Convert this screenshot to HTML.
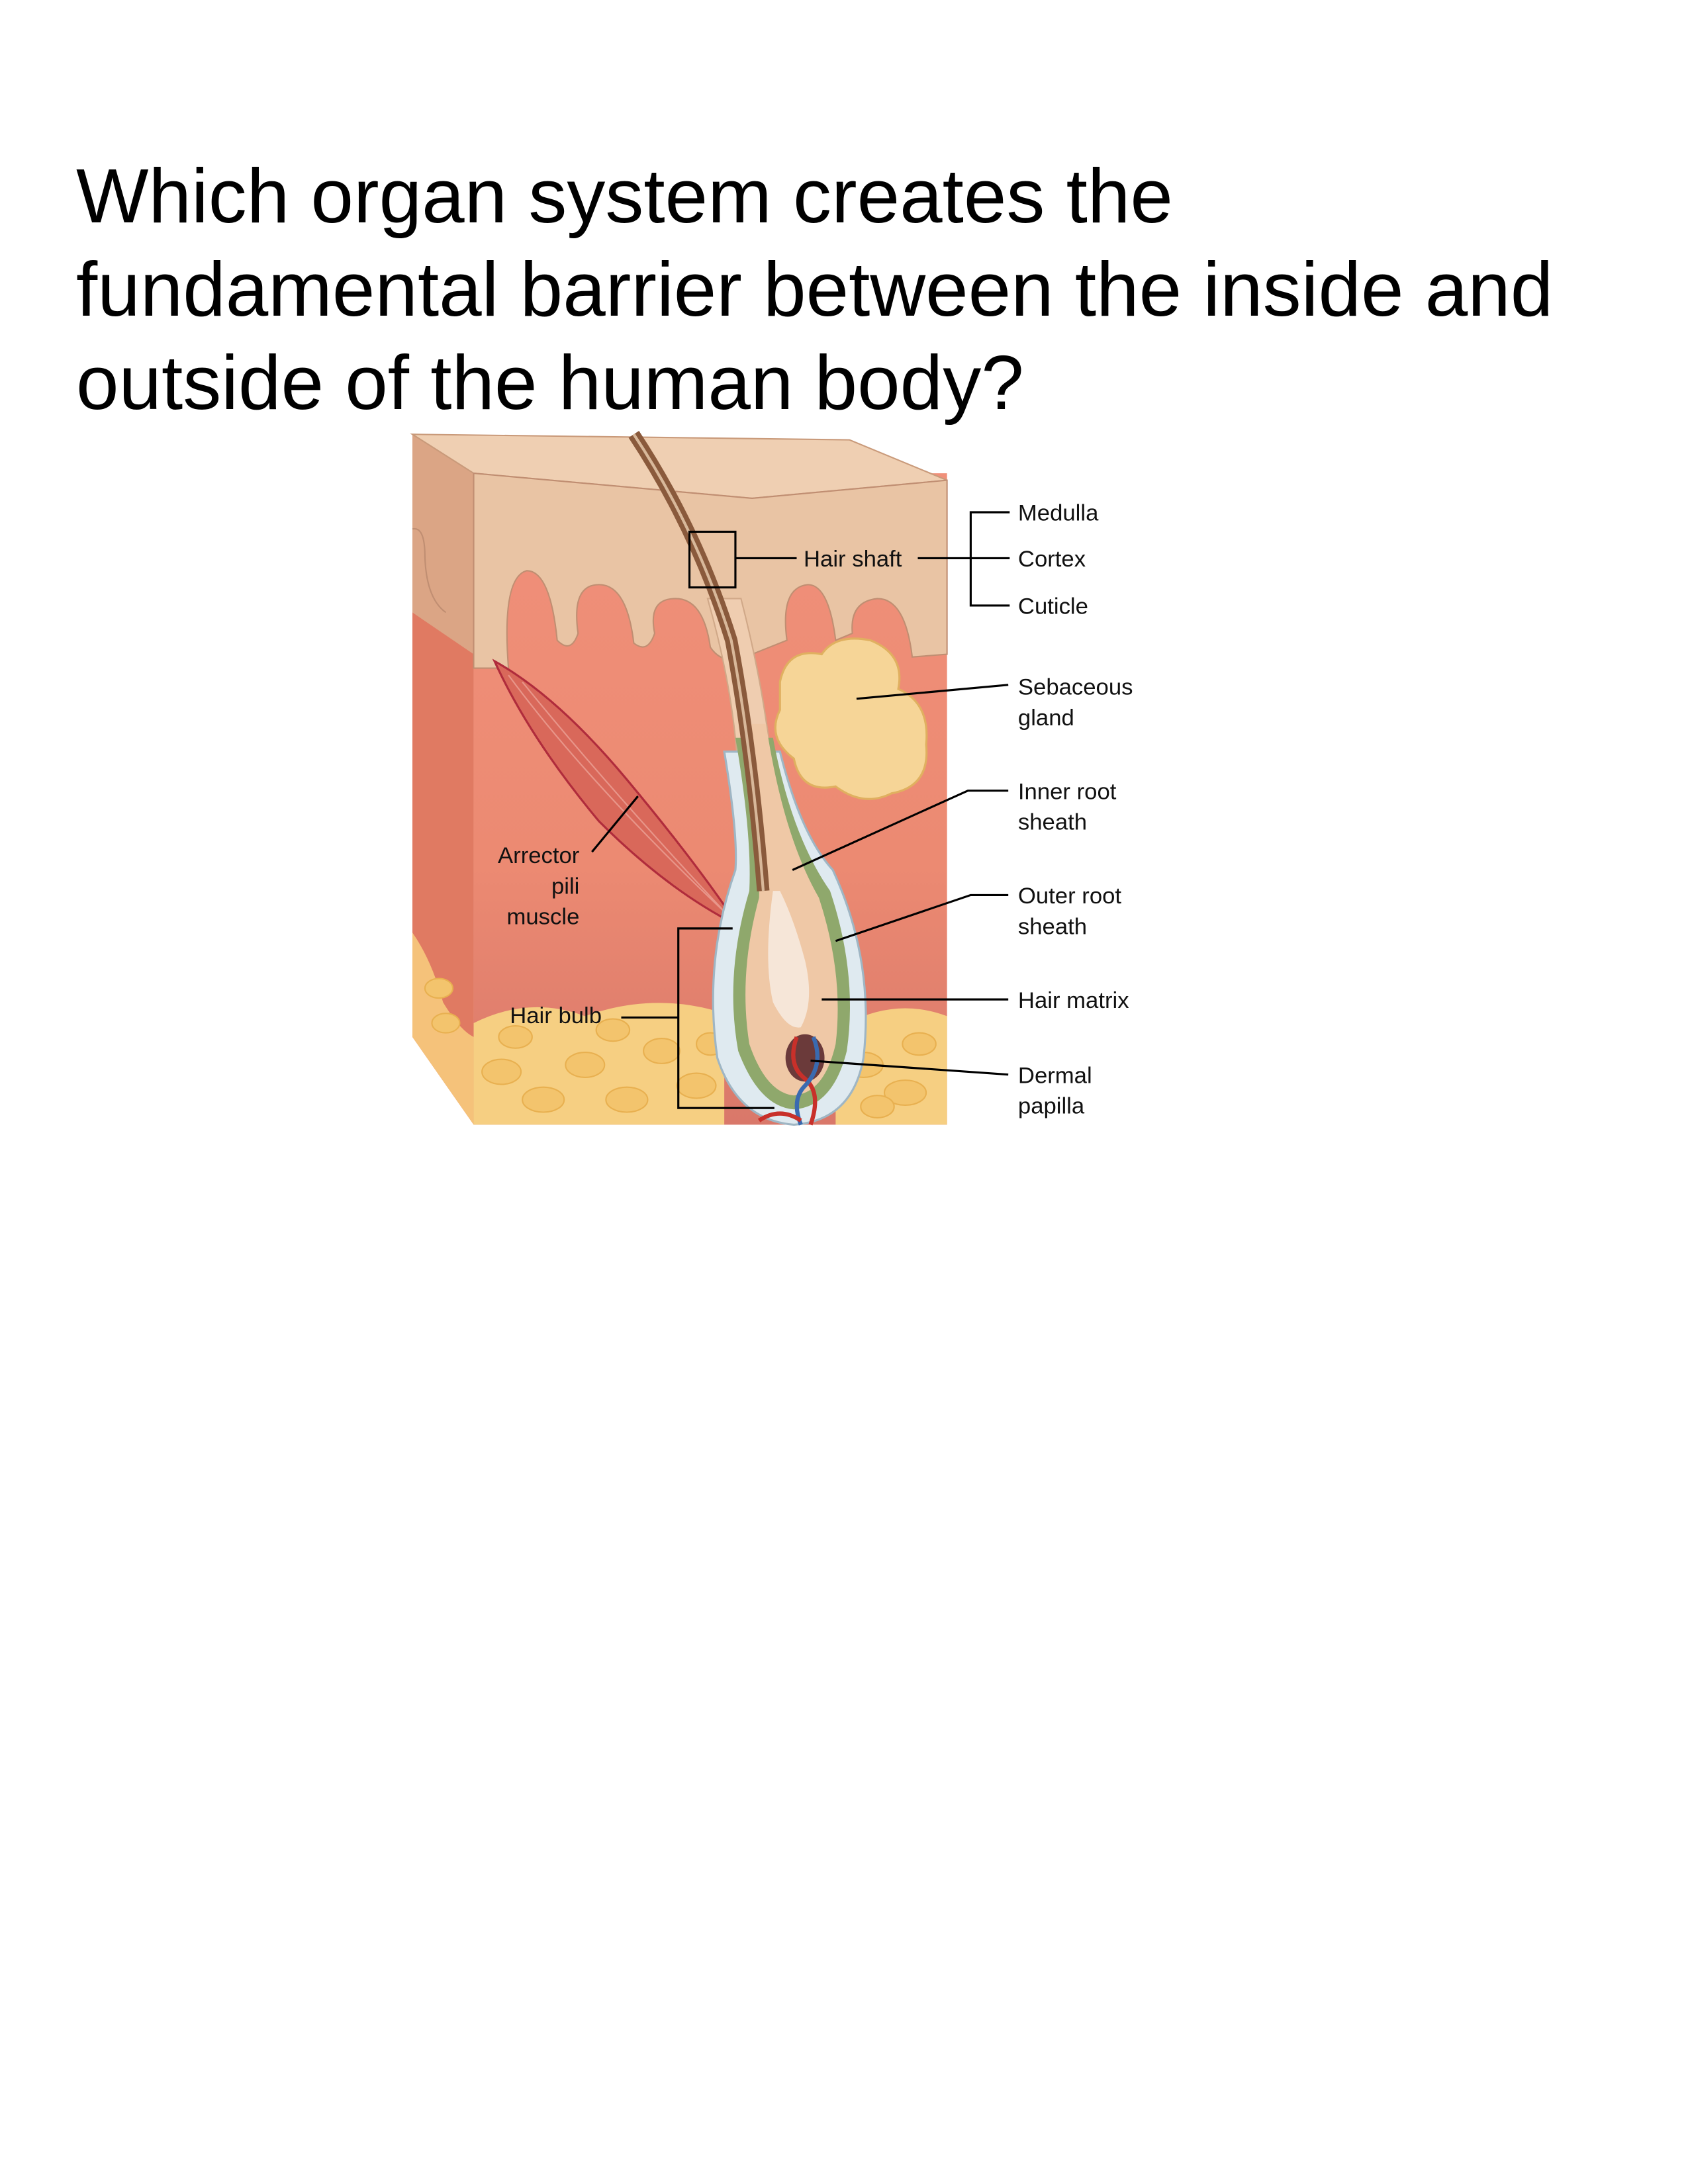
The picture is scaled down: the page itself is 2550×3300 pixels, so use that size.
<!DOCTYPE html>
<html><head><meta charset="utf-8">
<style>
html,body{margin:0;padding:0;background:#fff;}
body{width:2550px;height:3300px;position:relative;overflow:hidden;}
.q{position:absolute;left:115px;top:226px;font-family:"Liberation Sans",Arial,sans-serif;font-size:116px;line-height:141px;color:#000;white-space:nowrap;}
svg{position:absolute;left:0;top:0;}
</style></head>
<body>
<div class="q">Which organ system creates the<br>fundamental barrier between the inside and<br>outside of the human body?</div>
<svg width="2550" height="3300" viewBox="0 0 1212 1569" xmlns="http://www.w3.org/2000/svg">
<defs>
<linearGradient id="derm" x1="0" y1="0" x2="0" y2="1">
<stop offset="0" stop-color="#f0907a"/><stop offset="0.6" stop-color="#ec8a72"/><stop offset="1" stop-color="#d9786a"/>
</linearGradient>
</defs>
<polygon points="296,312 340,340 340,808 296,745" fill="#e07a62"/>
<polygon points="296,312 340,340 340,470 296,440" fill="#dba585"/>
<path d="M296,670 Q310,690 318,720 Q330,740 340,745 L340,808 L296,745 Z" fill="#f5c27a"/>
<rect x="340" y="340" width="340" height="468" fill="url(#derm)"/>
<path d="M340,735 Q380,715 420,730 Q470,712 520,728 L520,808 L340,808 Z" fill="#f6cf82"/>
<path d="M600,740 Q640,715 680,730 L680,808 L600,808 Z" fill="#f6cf82"/>
<g fill="#f3c46d" stroke="#e8b050" stroke-width="1">
<ellipse cx="360" cy="770" rx="14" ry="9"/><ellipse cx="390" cy="790" rx="15" ry="9"/><ellipse cx="420" cy="765" rx="14" ry="9"/>
<ellipse cx="450" cy="790" rx="15" ry="9"/><ellipse cx="475" cy="755" rx="13" ry="9"/><ellipse cx="500" cy="780" rx="14" ry="9"/>
<ellipse cx="370" cy="745" rx="12" ry="8"/><ellipse cx="440" cy="740" rx="12" ry="8"/><ellipse cx="510" cy="750" rx="10" ry="8"/>
<ellipse cx="620" cy="765" rx="14" ry="9"/><ellipse cx="650" cy="785" rx="15" ry="9"/><ellipse cx="660" cy="750" rx="12" ry="8"/>
<ellipse cx="630" cy="795" rx="12" ry="8"/><ellipse cx="315" cy="710" rx="10" ry="7"/><ellipse cx="320" cy="735" rx="10" ry="7"/>
</g>
<polygon points="296,312 610,316 680,345 540,358 340,340" fill="#efcfb2" stroke="#c99a7a" stroke-width="1"/>
<path d="M340,340 L540,358 L680,345 L680,470 L655,472 Q650,430 630,430 Q610,432 612,455 L600,460 Q595,420 580,420 Q560,422 565,460 L540,470 Q520,480 510,465 Q505,430 485,430 Q465,430 470,455 Q465,470 455,462 Q450,420 430,420 Q410,420 415,455 Q410,470 400,460 Q395,410 378,410 Q360,415 365,480 L340,480 Z" fill="#e9c4a4" stroke="#c08e72" stroke-width="1"/>
<path d="M296,380 Q305,378 305,400 Q306,430 320,440" fill="none" stroke="#c08e72" stroke-width="1"/>
<path d="M560,490 Q565,465 590,470 Q600,455 625,460 Q650,470 645,495 Q668,505 665,535 Q668,565 640,570 Q620,580 600,565 Q575,570 570,545 Q550,530 560,510 Z" fill="#f6d597" stroke="#e0b060" stroke-width="1.5"/>
<path d="M355,475 Q400,500 450,560 Q500,620 530,665 Q480,640 430,590 Q380,530 355,475 Z" fill="#d9685a" stroke="#b02c3c" stroke-width="1.5"/>
<path d="M365,485 Q420,560 520,655 M375,490 Q440,570 525,660" fill="none" stroke="#e8968a" stroke-width="1"/>
<path d="M508,430 Q528,500 530,560 L555,560 Q550,500 532,430 Z" fill="#efcdb0" stroke="#d0a888" stroke-width="1"/>
<path d="M520,540 Q530,600 528,625 Q505,690 515,760 Q530,805 570,808 Q612,805 620,760 Q628,690 598,625 Q575,600 560,540 Z" fill="#dfeaf0" stroke="#9fb6c4" stroke-width="1.5"/>
<path d="M528,530 Q540,600 538,640 Q520,700 530,755 Q545,795 570,797 Q598,795 608,755 Q616,700 596,640 Q568,600 555,530 Z" fill="#8fa86c"/>
<path d="M533,520 Q546,600 545,645 Q530,700 538,750 Q550,785 570,787 Q592,785 600,750 Q606,700 588,645 Q562,600 550,520 Z" fill="#efc8a6"/>
<path d="M555,640 Q548,690 555,720 Q565,740 575,738 Q585,720 578,690 Q570,660 560,640 Z" fill="#f6e6d8"/>
<path d="M455,312 Q500,380 525,460 Q540,540 548,640" fill="none" stroke="#8a5a3c" stroke-width="9"/>
<path d="M455,312 Q500,380 525,460 Q540,540 548,640" fill="none" stroke="#d8b89a" stroke-width="2"/>
<ellipse cx="578" cy="760" rx="14" ry="17" fill="#6b3a3a"/>
<path d="M572,745 Q565,765 578,775 Q590,785 582,808" fill="none" stroke="#c8302a" stroke-width="3"/>
<path d="M584,745 Q592,765 578,780 Q568,790 575,808" fill="none" stroke="#3a6ab0" stroke-width="3"/>
<path d="M545,805 Q560,795 575,805" fill="none" stroke="#c8302a" stroke-width="3"/>
<rect x="495" y="382" width="33" height="40" fill="none" stroke="#000" stroke-width="1.5"/>
<g stroke="#000" stroke-width="1.5" fill="none">
<line x1="528" y1="401" x2="572" y2="401"/>
<line x1="659" y1="401" x2="725" y2="401"/>
<polyline points="725,368 697,368 697,435 725,435"/>
<line x1="615" y1="502" x2="724" y2="492"/>
<polyline points="569,625 695,568 724,568"/>
<polyline points="600,676 697,643 724,643"/>
<line x1="590" y1="718" x2="724" y2="718"/>
<line x1="582" y1="762" x2="724" y2="772"/>
<line x1="425" y1="612" x2="458" y2="572"/>
<line x1="446" y1="731" x2="487" y2="731"/>
<polyline points="526,667 487,667 487,796 556,796"/>
</g>
<g font-family="Liberation Sans, Arial, sans-serif" font-size="16.5" fill="#111">
<text x="731" y="374">Medulla</text>
<text x="731" y="407">Cortex</text>
<text x="731" y="441">Cuticle</text>
<text x="731" y="499">Sebaceous</text>
<text x="731" y="521">gland</text>
<text x="731" y="574">Inner root</text>
<text x="731" y="596">sheath</text>
<text x="731" y="649">Outer root</text>
<text x="731" y="671">sheath</text>
<text x="731" y="724">Hair matrix</text>
<text x="731" y="778">Dermal</text>
<text x="731" y="800">papilla</text>
<text x="577" y="407">Hair shaft</text>
<text x="416" y="620" text-anchor="end">Arrector</text>
<text x="416" y="642" text-anchor="end">pili</text>
<text x="416" y="664" text-anchor="end">muscle</text>
<text x="366" y="735">Hair bulb</text>
</g>
</svg>
</body></html>
